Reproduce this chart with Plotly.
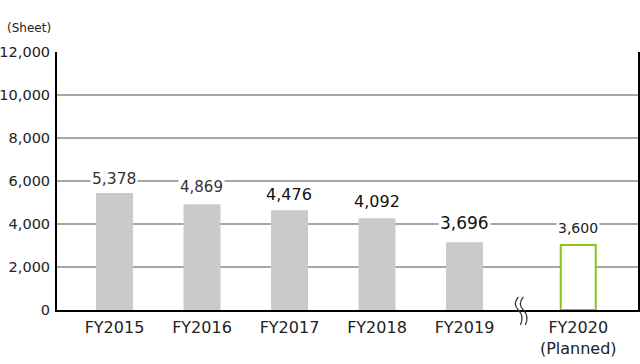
import plotly.graph_objects as go

# ---- data ----
categories = ["FY2015", "FY2016", "FY2017", "FY2018", "FY2019", "FY2020<br>(Planned)"]
bar_heights = [5390, 4875, 4595, 4225, 3105, 3025]          # heights as drawn
value_labels = ["5,378", "4,869", "4,476", "4,092", "3,696", "3,600"]  # printed labels
y_tick_vals = [0, 2000, 4000, 6000, 8000, 10000, 12000]
y_tick_text = ["0", "2,000", "4,000", "6,000", "8,000", "10,000", "12,000"]
unit_label = "(Sheet)"

# ---- layout helpers (positions/styles) ----
x_pos = [0, 1, 2, 3, 4, 5.3]
x_range = [-0.657, 5.983]
break_x = 4.65
fill_colors = ["#c9cac9"] * 5 + ["#ffffff"]
line_colors = ["#c9cac9"] * 5 + ["#8cc21e"]
label_sizes = [15.5, 15, 16, 16, 17, 14]
label_shift = [15, 18, 17, 18, 20, 17]
label_colors = ["#333333", "#333333", "#111111", "#111111", "#111111", "#222222"]

fig = go.Figure()
fig.add_trace(go.Bar(
    x=x_pos, y=bar_heights, width=0.4,
    marker=dict(color=fill_colors, line=dict(color=line_colors, width=2)),
    hoverinfo="skip",
))

for xp, h, t, s, sh, c in zip(x_pos, bar_heights, value_labels, label_sizes, label_shift, label_colors):
    fig.add_annotation(x=xp, y=h, text=t, showarrow=False, yshift=sh, yanchor="middle",
                       font=dict(family="Verdana, DejaVu Sans", size=s, color=c),
                       bgcolor="white", borderpad=1)

fig.add_annotation(xref="paper", yref="paper", x=-0.007, y=1.0, yshift=24, xanchor="right",
                   yanchor="middle", text=unit_label, showarrow=False,
                   font=dict(family="Verdana, DejaVu Sans", size=12, color="#222222"))

# break marker (pixel-sized paths anchored on the axis, paper-referenced so not clipped)
break_paper = (break_x - x_range[0]) / (x_range[1] - x_range[0])
for path in ["M -3,13 Q -9,6 -3,0 Q 3,-6 -1,-15", "M 2,13 Q -4,6 2,0 Q 8,-6 4,-15"]:
    fig.add_shape(type="path", xref="paper", yref="paper", xsizemode="pixel", ysizemode="pixel",
                  xanchor=break_paper, yanchor=0, path=path,
                  line=dict(color="#333333", width=1.2))

fig.update_layout(
    width=640, height=364,
    margin=dict(l=57, r=2, t=52, b=54),
    paper_bgcolor="white", plot_bgcolor="white",
    showlegend=False,
    font=dict(family="Verdana, DejaVu Sans", color="#222222"),
    xaxis=dict(range=x_range, tickvals=x_pos, ticktext=categories, automargin=False,
               showgrid=False, zeroline=False, showline=True, linecolor="black", linewidth=2,
               tickfont=dict(size=16, color="#222222"), ticklabelstandoff=2, fixedrange=True),
    yaxis=dict(range=[0, 12000], tickvals=y_tick_vals, ticktext=y_tick_text, automargin=False,
               showgrid=True, gridcolor="#a6a6a6", gridwidth=1.5, zeroline=False,
               showline=True, linecolor="black", linewidth=2, mirror=True,
               tickfont=dict(size=14.5, color="#222222"), ticklabelstandoff=2, fixedrange=True),
)

fig.write_html("out.html", config={"displayModeBar": False},
               post_script="document.body.style.margin='0';document.body.style.overflow='hidden';")
